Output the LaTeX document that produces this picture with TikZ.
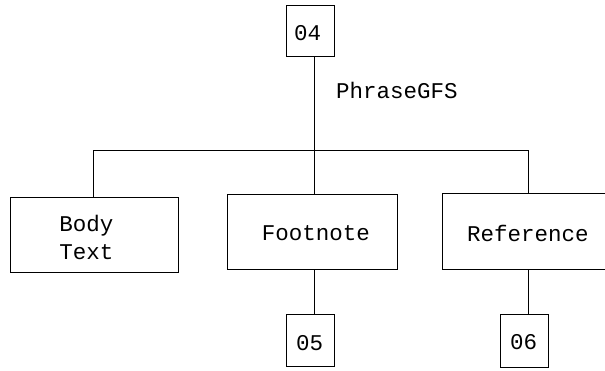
\documentclass[tikz,border=0pt]{standalone}
\usepackage{fontspec}
\newfontfamily\diagfont{Liberation Mono}
\begin{document}
\begin{tikzpicture}[x=1pt,y=-1pt,
  box/.style={draw, line width=0.9pt, inner sep=0pt},
  lbl/.style={font=\diagfont\fontsize{22.5}{28}\selectfont, inner sep=0pt},
  conn/.style={line width=0.9pt}]
\clip (0,0) rectangle (605,370);
\fill[white] (0,0) rectangle (605,370);
% boxes
\node[box, minimum width=48pt, minimum height=51pt] (o4) at (310,30.5) {};
\node[box, minimum width=168pt, minimum height=75pt] (body) at (94,234.5) {};
\node[box, minimum width=170pt, minimum height=75pt] (foot) at (312,231.5) {};
\node[box, minimum width=170pt, minimum height=76pt] (ref) at (527,231) {};
\node[box, minimum width=48pt, minimum height=52pt] (o5) at (310,340) {};
\node[box, minimum width=48pt, minimum height=53pt] (o6) at (524,340.5) {};
% labels
\node[lbl] (t4) at (307.5,33) {04};
\node[lbl] (t5) at (309.5,343.5) {05};
\node[lbl] (t6) at (523.5,342.5) {06};
\node[lbl, align=left] (tb) at (86.5,237) {Body\\Text};
\node[lbl] (tf) at (316,233.5) {Footnote};
\node[lbl] (tr) at (528,233.5) {Reference};
\node[lbl] (tp) at (397,90) {PhraseGFS};
% connectors
\coordinate (bj) at (314,150);
\coordinate (bl) at (93,150);
\coordinate (br) at (528,150);
\draw[conn] (bj |- o4.south) -- (bj);
\draw[conn] (bl |- body.north) -- (bl) -- (br) -- (br |- ref.north);
\draw[conn] (bj) -- (bj |- foot.north);
\draw[conn] (bj |- foot.south) -- (bj |- o5.north);
\draw[conn] (br |- ref.south) -- (br |- o6.north);
\end{tikzpicture}
\end{document}
